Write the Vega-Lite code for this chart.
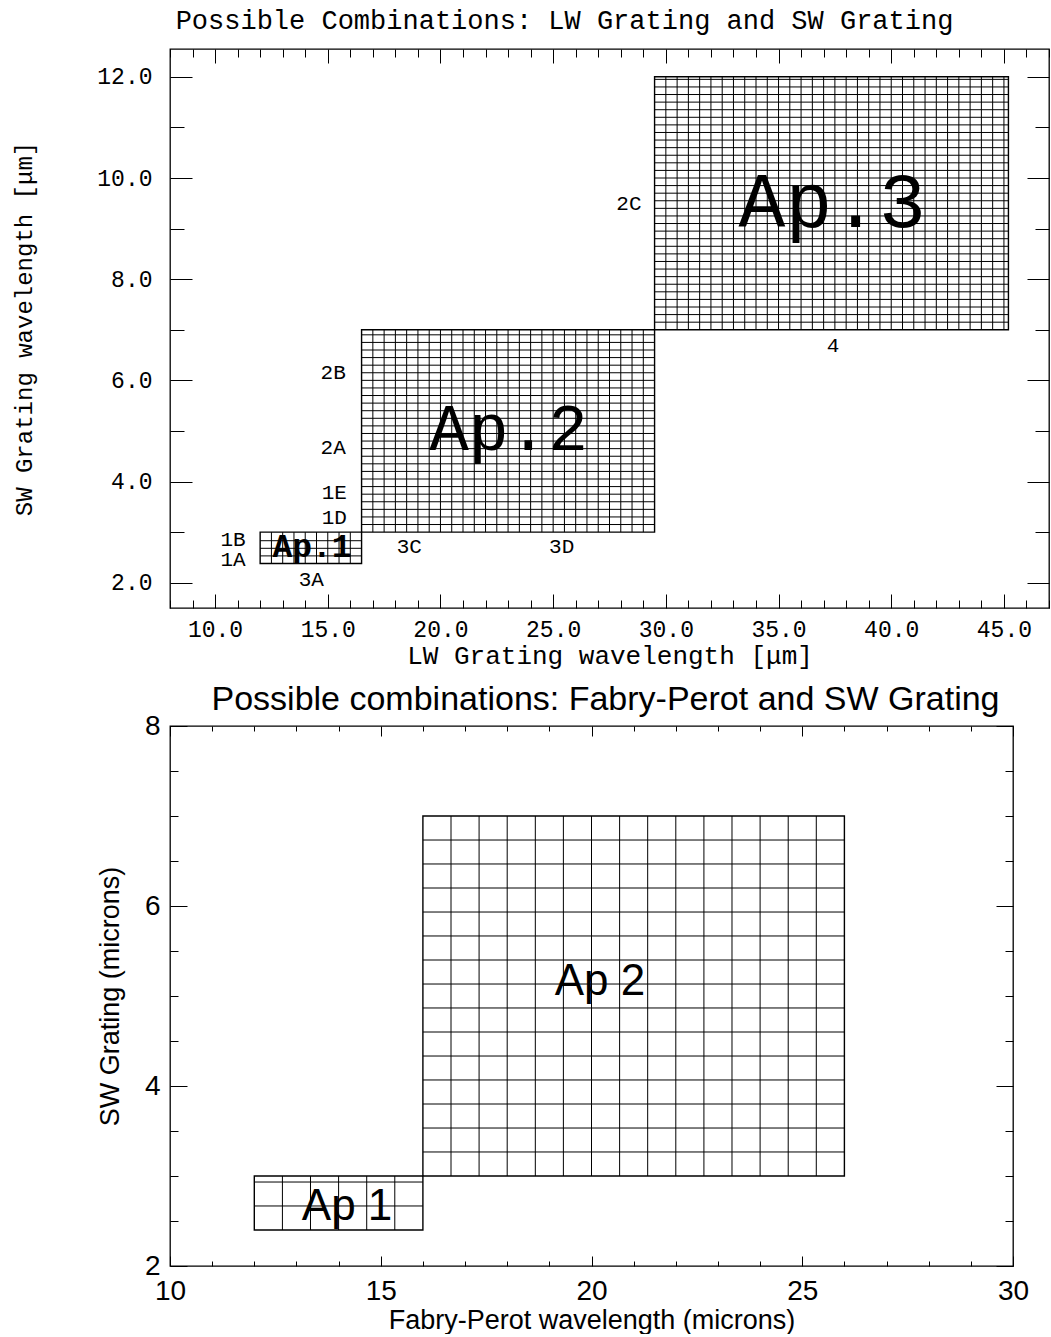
{
  "$schema": "https://vega.github.io/schema/vega-lite/v6.json",
  "background": "white",
  "padding": {"left": 12, "top": 5, "right": 0, "bottom": 0},
  "spacing": 13,
  "config": {
    "view": {"stroke": "black", "strokeWidth": 1.3},
    "axis": {"domain": false, "grid": false, "tickColor": "black", "labelColor": "black", "titleColor": "black", "tickWidth": 1, "labelFlush": false, "labelOverlap": false}
  },
  "datasets": {
    "top_rects": [
      {"name": "Ap.1", "x": 12, "x2": 16.5, "y": 2.38, "y2": 3.0},
      {"name": "Ap.2", "x": 16.5, "x2": 29.5, "y": 3.0, "y2": 7.0},
      {"name": "Ap.3", "x": 29.5, "x2": 45.2, "y": 7.0, "y2": 12.0}
    ],
    "top_v": [
      {"x": 12.5, "y": 2.38, "y2": 3.0}, {"x": 13, "y": 2.38, "y2": 3.0}, {"x": 13.5, "y": 2.38, "y2": 3.0}, {"x": 14, "y": 2.38, "y2": 3.0},
      {"x": 14.5, "y": 2.38, "y2": 3.0}, {"x": 15, "y": 2.38, "y2": 3.0}, {"x": 15.5, "y": 2.38, "y2": 3.0}, {"x": 16, "y": 2.38, "y2": 3.0},
      {"x": 17, "y": 3, "y2": 7}, {"x": 17.5, "y": 3, "y2": 7}, {"x": 18, "y": 3, "y2": 7}, {"x": 18.5, "y": 3, "y2": 7},
      {"x": 19, "y": 3, "y2": 7}, {"x": 19.5, "y": 3, "y2": 7}, {"x": 20, "y": 3, "y2": 7}, {"x": 20.5, "y": 3, "y2": 7},
      {"x": 21, "y": 3, "y2": 7}, {"x": 21.5, "y": 3, "y2": 7}, {"x": 22, "y": 3, "y2": 7}, {"x": 22.5, "y": 3, "y2": 7},
      {"x": 23, "y": 3, "y2": 7}, {"x": 23.5, "y": 3, "y2": 7}, {"x": 24, "y": 3, "y2": 7}, {"x": 24.5, "y": 3, "y2": 7},
      {"x": 25, "y": 3, "y2": 7}, {"x": 25.5, "y": 3, "y2": 7}, {"x": 26, "y": 3, "y2": 7}, {"x": 26.5, "y": 3, "y2": 7},
      {"x": 27, "y": 3, "y2": 7}, {"x": 27.5, "y": 3, "y2": 7}, {"x": 28, "y": 3, "y2": 7}, {"x": 28.5, "y": 3, "y2": 7},
      {"x": 29, "y": 3, "y2": 7},
      {"x": 30, "y": 7, "y2": 12}, {"x": 30.5, "y": 7, "y2": 12}, {"x": 31, "y": 7, "y2": 12}, {"x": 31.5, "y": 7, "y2": 12},
      {"x": 32, "y": 7, "y2": 12}, {"x": 32.5, "y": 7, "y2": 12}, {"x": 33, "y": 7, "y2": 12}, {"x": 33.5, "y": 7, "y2": 12},
      {"x": 34, "y": 7, "y2": 12}, {"x": 34.5, "y": 7, "y2": 12}, {"x": 35, "y": 7, "y2": 12}, {"x": 35.5, "y": 7, "y2": 12},
      {"x": 36, "y": 7, "y2": 12}, {"x": 36.5, "y": 7, "y2": 12}, {"x": 37, "y": 7, "y2": 12}, {"x": 37.5, "y": 7, "y2": 12},
      {"x": 38, "y": 7, "y2": 12}, {"x": 38.5, "y": 7, "y2": 12}, {"x": 39, "y": 7, "y2": 12}, {"x": 39.5, "y": 7, "y2": 12},
      {"x": 40, "y": 7, "y2": 12}, {"x": 40.5, "y": 7, "y2": 12}, {"x": 41, "y": 7, "y2": 12}, {"x": 41.5, "y": 7, "y2": 12},
      {"x": 42, "y": 7, "y2": 12}, {"x": 42.5, "y": 7, "y2": 12}, {"x": 43, "y": 7, "y2": 12}, {"x": 43.5, "y": 7, "y2": 12},
      {"x": 44, "y": 7, "y2": 12}, {"x": 44.5, "y": 7, "y2": 12}, {"x": 45, "y": 7, "y2": 12}
    ],
    "top_h": [
      {"y": 2.53, "x": 12, "x2": 16.5}, {"y": 2.68, "x": 12, "x2": 16.5}, {"y": 2.83, "x": 12, "x2": 16.5},
      {"y": 3.15, "x": 16.5, "x2": 29.5}, {"y": 3.3, "x": 16.5, "x2": 29.5}, {"y": 3.45, "x": 16.5, "x2": 29.5}, {"y": 3.6, "x": 16.5, "x2": 29.5},
      {"y": 3.75, "x": 16.5, "x2": 29.5}, {"y": 3.9, "x": 16.5, "x2": 29.5}, {"y": 4.05, "x": 16.5, "x2": 29.5}, {"y": 4.2, "x": 16.5, "x2": 29.5},
      {"y": 4.35, "x": 16.5, "x2": 29.5}, {"y": 4.5, "x": 16.5, "x2": 29.5}, {"y": 4.65, "x": 16.5, "x2": 29.5}, {"y": 4.8, "x": 16.5, "x2": 29.5},
      {"y": 4.95, "x": 16.5, "x2": 29.5}, {"y": 5.1, "x": 16.5, "x2": 29.5}, {"y": 5.25, "x": 16.5, "x2": 29.5}, {"y": 5.4, "x": 16.5, "x2": 29.5},
      {"y": 5.55, "x": 16.5, "x2": 29.5}, {"y": 5.7, "x": 16.5, "x2": 29.5}, {"y": 5.85, "x": 16.5, "x2": 29.5}, {"y": 6.0, "x": 16.5, "x2": 29.5},
      {"y": 6.15, "x": 16.5, "x2": 29.5}, {"y": 6.3, "x": 16.5, "x2": 29.5}, {"y": 6.45, "x": 16.5, "x2": 29.5}, {"y": 6.6, "x": 16.5, "x2": 29.5},
      {"y": 6.75, "x": 16.5, "x2": 29.5}, {"y": 6.9, "x": 16.5, "x2": 29.5},
      {"y": 7.15, "x": 29.5, "x2": 45.2}, {"y": 7.3, "x": 29.5, "x2": 45.2}, {"y": 7.45, "x": 29.5, "x2": 45.2}, {"y": 7.6, "x": 29.5, "x2": 45.2},
      {"y": 7.75, "x": 29.5, "x2": 45.2}, {"y": 7.9, "x": 29.5, "x2": 45.2}, {"y": 8.05, "x": 29.5, "x2": 45.2}, {"y": 8.2, "x": 29.5, "x2": 45.2},
      {"y": 8.35, "x": 29.5, "x2": 45.2}, {"y": 8.5, "x": 29.5, "x2": 45.2}, {"y": 8.65, "x": 29.5, "x2": 45.2}, {"y": 8.8, "x": 29.5, "x2": 45.2},
      {"y": 8.95, "x": 29.5, "x2": 45.2}, {"y": 9.1, "x": 29.5, "x2": 45.2}, {"y": 9.25, "x": 29.5, "x2": 45.2}, {"y": 9.4, "x": 29.5, "x2": 45.2},
      {"y": 9.55, "x": 29.5, "x2": 45.2}, {"y": 9.7, "x": 29.5, "x2": 45.2}, {"y": 9.85, "x": 29.5, "x2": 45.2}, {"y": 10.0, "x": 29.5, "x2": 45.2},
      {"y": 10.15, "x": 29.5, "x2": 45.2}, {"y": 10.3, "x": 29.5, "x2": 45.2}, {"y": 10.45, "x": 29.5, "x2": 45.2}, {"y": 10.6, "x": 29.5, "x2": 45.2},
      {"y": 10.75, "x": 29.5, "x2": 45.2}, {"y": 10.9, "x": 29.5, "x2": 45.2}, {"y": 11.05, "x": 29.5, "x2": 45.2}, {"y": 11.2, "x": 29.5, "x2": 45.2},
      {"y": 11.35, "x": 29.5, "x2": 45.2}, {"y": 11.5, "x": 29.5, "x2": 45.2}, {"y": 11.65, "x": 29.5, "x2": 45.2}, {"y": 11.8, "x": 29.5, "x2": 45.2},
      {"y": 11.95, "x": 29.5, "x2": 45.2}
    ],
    "top_labels": [
      {"x": 10.8, "y": 2.85, "label": "1B"}, {"x": 10.8, "y": 2.44, "label": "1A"},
      {"x": 14.27, "y": 2.05, "label": "3A"}, {"x": 18.62, "y": 2.71, "label": "3C"},
      {"x": 25.38, "y": 2.71, "label": "3D"}, {"x": 15.29, "y": 3.28, "label": "1D"},
      {"x": 15.29, "y": 3.77, "label": "1E"}, {"x": 15.24, "y": 4.66, "label": "2A"},
      {"x": 15.24, "y": 6.15, "label": "2B"}, {"x": 28.36, "y": 9.48, "label": "2C"},
      {"x": 37.42, "y": 6.68, "label": "4"}
    ],
    "top_ap": [
      {"x": 14.3, "y": 2.51, "label": "Ap.1"},
      {"x": 23.02, "y": 4.62, "label": "Ap.2"},
      {"x": 37.38, "y": 9.03, "label": "Ap.3"}
    ],
    "bot_rects": [
      {"name": "Ap 1", "x": 12, "x2": 16, "y": 2.4, "y2": 3.0},
      {"name": "Ap 2", "x": 16, "x2": 26, "y": 3.0, "y2": 7.0}
    ],
    "bot_v": [
      {"x": 12.667, "y": 2.4, "y2": 3.0}, {"x": 13.333, "y": 2.4, "y2": 3.0}, {"x": 14, "y": 2.4, "y2": 3.0},
      {"x": 14.667, "y": 2.4, "y2": 3.0}, {"x": 15.333, "y": 2.4, "y2": 3.0},
      {"x": 16.667, "y": 3, "y2": 7}, {"x": 17.333, "y": 3, "y2": 7}, {"x": 18, "y": 3, "y2": 7}, {"x": 18.667, "y": 3, "y2": 7},
      {"x": 19.333, "y": 3, "y2": 7}, {"x": 20, "y": 3, "y2": 7}, {"x": 20.667, "y": 3, "y2": 7}, {"x": 21.333, "y": 3, "y2": 7},
      {"x": 22, "y": 3, "y2": 7}, {"x": 22.667, "y": 3, "y2": 7}, {"x": 23.333, "y": 3, "y2": 7}, {"x": 24, "y": 3, "y2": 7},
      {"x": 24.667, "y": 3, "y2": 7}, {"x": 25.333, "y": 3, "y2": 7}
    ],
    "bot_h": [
      {"y": 2.667, "x": 12, "x2": 16}, {"y": 2.933, "x": 12, "x2": 16},
      {"y": 3.267, "x": 16, "x2": 26}, {"y": 3.533, "x": 16, "x2": 26}, {"y": 3.8, "x": 16, "x2": 26}, {"y": 4.067, "x": 16, "x2": 26},
      {"y": 4.333, "x": 16, "x2": 26}, {"y": 4.6, "x": 16, "x2": 26}, {"y": 4.867, "x": 16, "x2": 26}, {"y": 5.133, "x": 16, "x2": 26},
      {"y": 5.4, "x": 16, "x2": 26}, {"y": 5.667, "x": 16, "x2": 26}, {"y": 5.933, "x": 16, "x2": 26}, {"y": 6.2, "x": 16, "x2": 26},
      {"y": 6.467, "x": 16, "x2": 26}, {"y": 6.733, "x": 16, "x2": 26}
    ],
    "bot_labels": [
      {"x": 14.2, "y": 2.51, "label": "Ap 1"},
      {"x": 20.2, "y": 5.01, "label": "Ap 2"}
    ]
  },
  "vconcat": [
    {
      "width": 879,
      "height": 559,
      "title": {"text": "Possible Combinations: LW Grating and SW Grating", "font": "Liberation Mono", "fontSize": 27, "fontWeight": "normal", "color": "black", "dx": -45, "offset": 14},
      "resolve": {"axis": {"x": "independent", "y": "independent"}},
      "layer": [
        {
          "data": {"name": "top_v"},
          "mark": {"type": "rule", "color": "black", "strokeWidth": 1},
          "encoding": {
            "x": {"field": "x", "type": "quantitative", "scale": {"domain": [8, 47], "nice": false, "zero": false},
                  "axis": {"orient": "bottom", "values": [8,9,10,11,12,13,14,15,16,17,18,19,20,21,22,23,24,25,26,27,28,29,30,31,32,33,34,35,36,37,38,39,40,41,42,43,44,45,46,47],
                           "labels": false, "title": null,
                           "tickSize": {"condition": {"test": "datum.value % 5 === 0", "value": -14}, "value": -8}}},
            "y": {"field": "y", "type": "quantitative", "scale": {"domain": [1.5, 12.55], "nice": false, "zero": false},
                  "axis": {"orient": "left", "values": [2,3,4,5,6,7,8,9,10,11,12], "labels": false, "title": null,
                           "tickSize": {"condition": {"test": "datum.value % 2 === 0", "value": -22}, "value": -14}}},
            "y2": {"field": "y2"}
          }
        },
        {
          "data": {"name": "top_h"},
          "mark": {"type": "rule", "color": "black", "strokeWidth": 1},
          "encoding": {
            "y": {"field": "y", "type": "quantitative", "scale": {"domain": [1.5, 12.55], "nice": false, "zero": false},
                  "axis": {"orient": "right", "values": [2,3,4,5,6,7,8,9,10,11,12], "labels": false, "title": null,
                           "tickSize": {"condition": {"test": "datum.value % 2 === 0", "value": -22}, "value": -14}}},
            "x": {"field": "x", "type": "quantitative", "scale": {"domain": [8, 47], "nice": false, "zero": false},
                  "axis": {"orient": "top", "values": [8,9,10,11,12,13,14,15,16,17,18,19,20,21,22,23,24,25,26,27,28,29,30,31,32,33,34,35,36,37,38,39,40,41,42,43,44,45,46,47],
                           "labels": false, "title": null,
                           "tickSize": {"condition": {"test": "datum.value % 5 === 0", "value": -14}, "value": -8}}},
            "x2": {"field": "x2"}
          }
        },
        {
          "data": {"name": "top_rects"},
          "mark": {"type": "rect", "fill": "white", "fillOpacity": 0, "stroke": "black", "strokeWidth": 1.4},
          "encoding": {
            "x": {"field": "x", "type": "quantitative", "scale": {"domain": [8, 47], "nice": false, "zero": false},
                  "axis": {"orient": "bottom", "values": [10,15,20,25,30,35,40,45], "format": ".1f", "ticks": false,
                           "labelFont": "Liberation Mono", "labelFontSize": 23, "labelPadding": 10,
                           "title": "LW Grating wavelength [μm]", "titleFont": "Liberation Mono", "titleFontSize": 26, "titleFontWeight": "normal", "titlePadding": 1}},
            "x2": {"field": "x2"},
            "y": {"field": "y", "type": "quantitative", "scale": {"domain": [1.5, 12.55], "nice": false, "zero": false},
                  "axis": {"orient": "left", "values": [2,4,6,8,10,12], "format": ".1f", "ticks": false,
                           "labelFont": "Liberation Mono", "labelFontSize": 23, "labelPadding": 18,
                           "title": "SW Grating wavelength [μm]", "titleFont": "Liberation Mono", "titleFontSize": 24, "titleFontWeight": "normal", "titlePadding": 60}},
            "y2": {"field": "y2"}
          }
        },
        {
          "data": {"name": "top_labels"},
          "mark": {"type": "text", "font": "Liberation Mono", "fontSize": 21, "color": "black", "align": "center", "baseline": "middle"},
          "encoding": {
            "x": {"field": "x", "type": "quantitative", "scale": {"domain": [8, 47], "nice": false, "zero": false}, "axis": null},
            "y": {"field": "y", "type": "quantitative", "scale": {"domain": [1.5, 12.55], "nice": false, "zero": false}, "axis": null},
            "text": {"field": "label"}
          }
        },
        {
          "data": {"name": "top_ap"},
          "transform": [{"filter": "datum.label === 'Ap.1'"}],
          "mark": {"type": "text", "font": "Liberation Mono", "fontSize": 33, "fontWeight": "bold", "color": "black", "align": "center", "baseline": "alphabetic"},
          "encoding": {
            "x": {"field": "x", "type": "quantitative", "scale": {"domain": [8, 47], "nice": false, "zero": false}, "axis": null},
            "y": {"field": "y", "type": "quantitative", "scale": {"domain": [1.5, 12.55], "nice": false, "zero": false}, "axis": null},
            "text": {"field": "label"}
          }
        },
        {
          "data": {"name": "top_ap"},
          "transform": [{"filter": "datum.label === 'Ap.2'"}],
          "mark": {"type": "text", "font": "Liberation Mono", "fontSize": 66, "color": "black", "align": "center", "baseline": "alphabetic"},
          "encoding": {
            "x": {"field": "x", "type": "quantitative", "scale": {"domain": [8, 47], "nice": false, "zero": false}, "axis": null},
            "y": {"field": "y", "type": "quantitative", "scale": {"domain": [1.5, 12.55], "nice": false, "zero": false}, "axis": null},
            "text": {"field": "label"}
          }
        },
        {
          "data": {"name": "top_ap"},
          "transform": [{"filter": "datum.label === 'Ap.3'"}],
          "mark": {"type": "text", "font": "Liberation Mono", "fontSize": 78, "color": "black", "align": "center", "baseline": "alphabetic"},
          "encoding": {
            "x": {"field": "x", "type": "quantitative", "scale": {"domain": [8, 47], "nice": false, "zero": false}, "axis": null},
            "y": {"field": "y", "type": "quantitative", "scale": {"domain": [1.5, 12.55], "nice": false, "zero": false}, "axis": null},
            "text": {"field": "label"}
          }
        }
      ]
    },
    {
      "width": 843,
      "height": 540,
      "title": {"text": "Possible combinations: Fabry-Perot and SW Grating", "font": "Liberation Sans", "fontSize": 34, "fontWeight": "normal", "color": "black", "dx": 14, "offset": -5},
      "resolve": {"axis": {"x": "independent", "y": "independent"}},
      "layer": [
        {
          "data": {"name": "bot_v"},
          "mark": {"type": "rule", "color": "black", "strokeWidth": 1},
          "encoding": {
            "x": {"field": "x", "type": "quantitative", "scale": {"domain": [10, 30], "nice": false, "zero": false},
                  "axis": {"orient": "bottom", "values": [10,11,12,13,14,15,16,17,18,19,20,21,22,23,24,25,26,27,28,29,30],
                           "labels": false, "title": null,
                           "tickSize": {"condition": {"test": "datum.value % 5 === 0", "value": -10}, "value": -5}}},
            "y": {"field": "y", "type": "quantitative", "scale": {"domain": [2, 8], "nice": false, "zero": false},
                  "axis": {"orient": "left", "values": [2,2.5,3,3.5,4,4.5,5,5.5,6,6.5,7,7.5,8], "labels": false, "title": null,
                           "tickSize": {"condition": {"test": "datum.value % 2 === 0", "value": -17}, "value": -8}}},
            "y2": {"field": "y2"}
          }
        },
        {
          "data": {"name": "bot_h"},
          "mark": {"type": "rule", "color": "black", "strokeWidth": 1},
          "encoding": {
            "y": {"field": "y", "type": "quantitative", "scale": {"domain": [2, 8], "nice": false, "zero": false},
                  "axis": {"orient": "right", "values": [2,2.5,3,3.5,4,4.5,5,5.5,6,6.5,7,7.5,8], "labels": false, "title": null,
                           "tickSize": {"condition": {"test": "datum.value % 2 === 0", "value": -17}, "value": -8}}},
            "x": {"field": "x", "type": "quantitative", "scale": {"domain": [10, 30], "nice": false, "zero": false},
                  "axis": {"orient": "top", "values": [10,11,12,13,14,15,16,17,18,19,20,21,22,23,24,25,26,27,28,29,30],
                           "labels": false, "title": null,
                           "tickSize": {"condition": {"test": "datum.value % 5 === 0", "value": -10}, "value": -5}}},
            "x2": {"field": "x2"}
          }
        },
        {
          "data": {"name": "bot_rects"},
          "mark": {"type": "rect", "fill": "white", "fillOpacity": 0, "stroke": "black", "strokeWidth": 1.4},
          "encoding": {
            "x": {"field": "x", "type": "quantitative", "scale": {"domain": [10, 30], "nice": false, "zero": false},
                  "axis": {"orient": "bottom", "values": [10,15,20,25,30], "format": "d", "ticks": false,
                           "labelFont": "Liberation Sans", "labelFontSize": 28, "labelPadding": 11,
                           "title": "Fabry-Perot wavelength (microns)", "titleFont": "Liberation Sans", "titleFontSize": 27, "titleFontWeight": "normal", "titlePadding": 2}},
            "x2": {"field": "x2"},
            "y": {"field": "y", "type": "quantitative", "scale": {"domain": [2, 8], "nice": false, "zero": false},
                  "axis": {"orient": "left", "values": [2,4,6,8], "format": "d", "ticks": false,
                           "labelFont": "Liberation Sans", "labelFontSize": 28, "labelPadding": 10,
                           "title": "SW Grating (microns)", "titleFont": "Liberation Sans", "titleFontSize": 27, "titleFontWeight": "normal", "titlePadding": 20}},
            "y2": {"field": "y2"}
          }
        },
        {
          "data": {"name": "bot_labels"},
          "mark": {"type": "text", "font": "Liberation Sans", "fontSize": 44, "color": "black", "align": "center", "baseline": "alphabetic"},
          "encoding": {
            "x": {"field": "x", "type": "quantitative", "scale": {"domain": [10, 30], "nice": false, "zero": false}, "axis": null},
            "y": {"field": "y", "type": "quantitative", "scale": {"domain": [2, 8], "nice": false, "zero": false}, "axis": null},
            "text": {"field": "label"}
          }
        }
      ]
    }
  ]
}
